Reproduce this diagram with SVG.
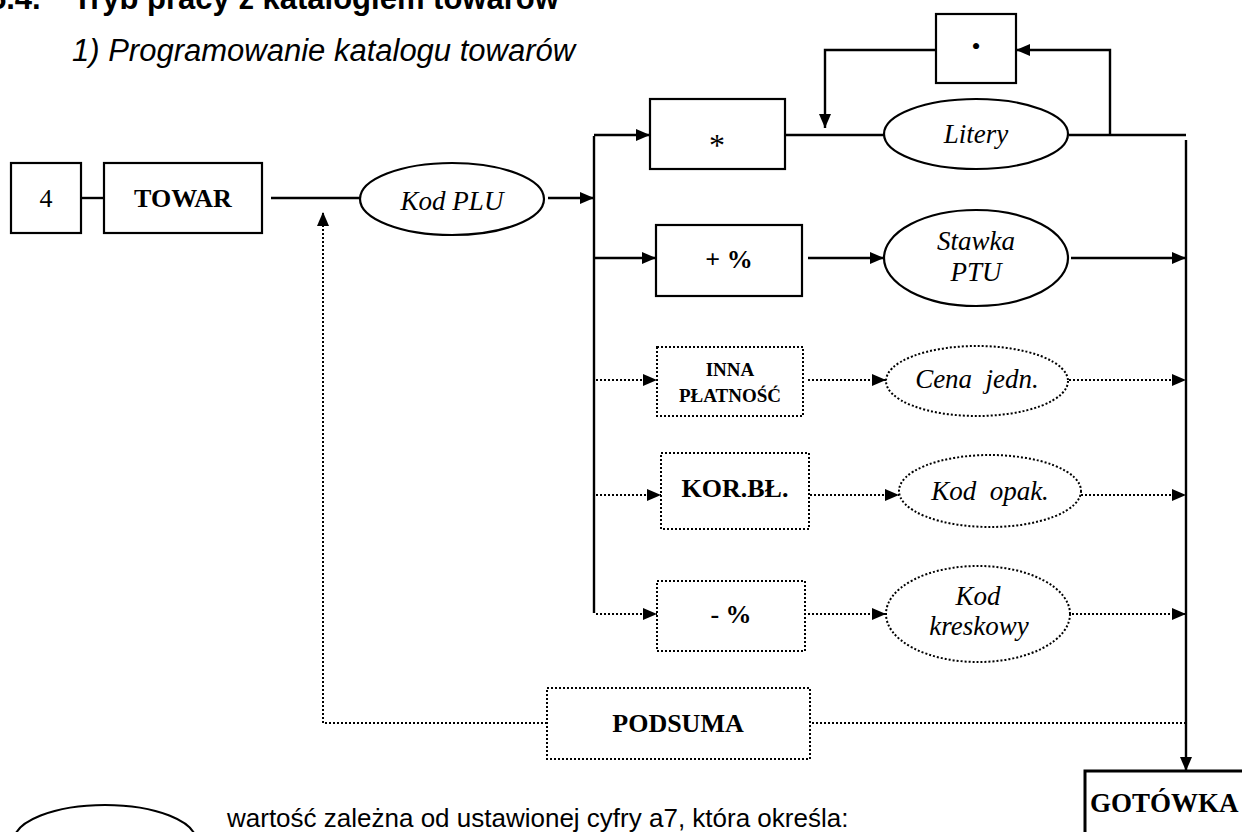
<svg xmlns="http://www.w3.org/2000/svg" width="1242" height="832" viewBox="0 0 1242 832">
<defs>
<marker id="ah" markerUnits="userSpaceOnUse" markerWidth="15" markerHeight="13" refX="14" refY="6" orient="auto"><path d="M0,0 L14,6 L0,12 z" fill="#000"/></marker>
<style>
.box{fill:#fff;stroke:#000;stroke-width:2.2}
.dbox{fill:#fff;stroke:#000;stroke-width:2;stroke-dasharray:2 2}
.ln{fill:none;stroke:#000;stroke-width:2.4}
.dl{fill:none;stroke:#000;stroke-width:2;stroke-dasharray:2 2}
.a{marker-end:url(#ah)}
.tb{font-family:"Liberation Serif",serif;font-weight:bold;font-size:26px;text-anchor:middle}
.tr{font-family:"Liberation Serif",serif;font-size:26px;text-anchor:middle}
.ti{font-family:"Liberation Serif",serif;font-style:italic;font-size:27px;text-anchor:middle;white-space:pre}
.ta{font-family:"Liberation Sans",Arial,sans-serif}
</style>
</defs>
<rect width="1242" height="832" fill="#fff"/>
<text class="ta" x="-11" y="9" font-size="31" font-weight="bold">5.4.</text>
<text class="ta" x="73" y="9" font-size="31" font-weight="bold">Tryb pracy z katalogiem towarów</text>
<text class="ta" x="72" y="61" font-size="31" font-style="italic">1) Programowanie katalogu towarów</text>

<g id="connectors">
<line class="ln" x1="81" y1="198" x2="104" y2="198"/>
<line class="ln" x1="271" y1="198" x2="361" y2="198"/>
<line class="ln a" x1="548" y1="198" x2="594" y2="198"/>
<line class="ln" x1="594" y1="136" x2="594" y2="613"/>
<line class="ln a" x1="594" y1="135" x2="650" y2="135"/>
<line class="ln" x1="785" y1="135" x2="884" y2="135"/>
<line class="ln" x1="1069" y1="135" x2="1186" y2="135"/>
<polyline class="ln a" points="1110,135 1110,50 1016,50"/>
<polyline class="ln a" points="936,50 825,50 825,128"/>
<line class="ln a" x1="1186" y1="140" x2="1186" y2="771"/>
<line class="ln a" x1="594" y1="258" x2="656" y2="258"/>
<line class="ln a" x1="808" y1="258" x2="884" y2="258"/>
<line class="ln a" x1="1071" y1="258" x2="1186" y2="258"/>
<line class="dl a" x1="596" y1="380" x2="657" y2="380"/>
<line class="dl a" x1="808" y1="380" x2="886" y2="380"/>
<line class="dl a" x1="1069" y1="380" x2="1186" y2="380"/>
<line class="dl a" x1="596" y1="495" x2="661" y2="495"/>
<line class="dl a" x1="810" y1="495" x2="899" y2="495"/>
<line class="dl a" x1="1081" y1="495" x2="1186" y2="495"/>
<line class="dl a" x1="596" y1="614" x2="657" y2="614"/>
<line class="dl a" x1="808" y1="614" x2="886" y2="614"/>
<line class="dl a" x1="1072" y1="614" x2="1186" y2="614"/>
<line class="dl" x1="1186" y1="723" x2="810" y2="723"/>
<polyline class="dl a" points="547,723 323,723 323,212"/>
</g>

<g id="n4"><rect class="box" x="11" y="163" width="70" height="70"/><text class="tr" x="46" y="207">4</text></g>
<g id="towar"><rect class="box" x="104" y="163" width="158" height="70"/><text class="tb" x="183" y="207">TOWAR</text></g>
<g id="kodplu"><ellipse class="box" cx="452" cy="199" rx="92" ry="36"/><text class="ti" x="452" y="210">Kod PLU</text></g>
<g id="dot"><rect class="box" x="936" y="14" width="80" height="69"/><text class="tr" x="976" y="55" font-size="20">•</text></g>
<g id="star"><rect class="box" x="650" y="99" width="135" height="70"/><text class="tr" x="717" y="156" style="font-size:32px">*</text></g>
<g id="litery"><ellipse class="box" cx="976" cy="134" rx="92" ry="35"/><text class="ti" x="976" y="143">Litery</text></g>
<g id="plusproc"><rect class="box" x="656" y="225" width="146" height="71"/><text class="tb" x="729" y="268">+ %</text></g>
<g id="stawka"><ellipse class="box" cx="976" cy="258" rx="92" ry="48"/><text class="ti" x="976" y="250">Stawka</text><text class="ti" x="976" y="281">PTU</text></g>
<g id="inna"><rect class="dbox" x="657" y="347" width="146" height="69"/><text class="tb" x="730" y="376" style="font-size:19px">INNA</text><text class="tb" x="730" y="402" style="font-size:19px">PŁATNOŚĆ</text></g>
<g id="cena"><ellipse class="dbox" cx="977" cy="381" rx="91" ry="35"/><text class="ti" x="977" y="388">Cena  jedn.</text></g>
<g id="korbl"><rect class="dbox" x="661" y="453" width="148" height="76"/><text class="tb" x="735" y="497">KOR.BŁ.</text></g>
<g id="kodopak"><ellipse class="dbox" cx="990" cy="491" rx="91" ry="36"/><text class="ti" x="990" y="500">Kod  opak.</text></g>
<g id="minusproc"><rect class="dbox" x="657" y="581" width="148" height="70"/><text class="tb" x="731" y="623">- %</text></g>
<g id="kodkresk"><ellipse class="dbox" cx="978" cy="614" rx="92" ry="48"/><text class="ti" x="978" y="605">Kod</text><text class="ti" x="979" y="635">kreskowy</text></g>
<g id="podsuma"><rect class="dbox" x="547" y="688" width="263" height="71"/><text class="tb" x="678" y="732">PODSUMA</text></g>
<g id="gotowka"><rect class="box" x="1085" y="771" width="170" height="80" style="stroke-width:3"/><text class="tb" x="1090" y="812" style="font-size:27px;text-anchor:start">GOTÓWKA</text></g>
<g id="legend"><ellipse class="box" cx="105" cy="841" rx="91" ry="36"/><text class="ta" x="227" y="827" font-size="26">wartość zależna od ustawionej cyfry a7, która określa:</text></g>
</svg>
